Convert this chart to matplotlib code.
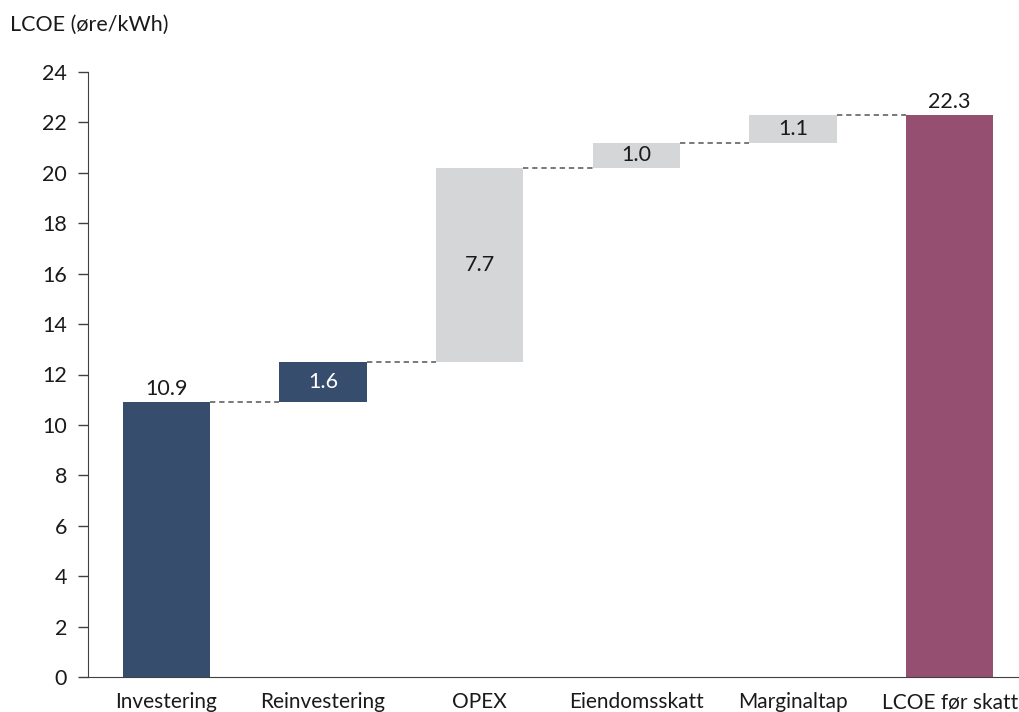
import matplotlib
matplotlib.use("Agg")
import matplotlib.pyplot as plt

# Cost components of LCOE (øre/kWh)
categories = ["Investering", "Reinvestering", "OPEX", "Eiendomsskatt", "Marginaltap", "LCOE før skatt"]
steps = [10.9, 1.6, 7.7, 1.0, 1.1]
total = 22.3
y_ticks = [0, 2, 4, 6, 8, 10, 12, 14, 16, 18, 20, 22, 24]

dark_blue = "#374D6E"
light_gray = "#D5D6D8"
plum = "#944F71"
text_col = "#1A1A1A"

plt.rcParams["font.family"] = ["Lato", "DejaVu Sans"]

fig = plt.figure(figsize=(10.19, 7.12), dpi=100)
ax = fig.add_axes([88 / 1019, 35 / 712, 940 / 1019, 605 / 712])

bar_w = 0.556
bar_colors = [dark_blue, dark_blue, light_gray, light_gray, light_gray]

# floating step bars
bottoms = []
running = 0.0
for v in steps:
    bottoms.append(running)
    running += v

x = list(range(len(categories)))
for i, (v, b, c) in enumerate(zip(steps, bottoms, bar_colors)):
    ax.bar(x[i], v, bottom=b, width=bar_w, color=c, zorder=2)
ax.bar(x[-1], total, width=bar_w, color=plum, zorder=2)

# connectors between consecutive bars
tops = [b + v for b, v in zip(bottoms, steps)]
for i, t in enumerate(tops):
    ax.plot([x[i] + bar_w / 2, x[i + 1] - bar_w / 2], [t, t],
            linestyle=(0, (3.5, 2.5)), color="#555555", linewidth=1.1, zorder=1)

# value labels
fs = 15.5
ax.text(x[0], steps[0] + 0.12, f"{steps[0]:.1f}", ha="center", va="bottom",
        fontsize=fs, color=text_col)
for i in range(1, len(steps)):
    col = "white" if bar_colors[i] == dark_blue else text_col
    ax.text(x[i], bottoms[i] + steps[i] / 2, f"{steps[i]:.1f}", ha="center",
            va="center", fontsize=fs, color=col)
ax.text(x[-1], total + 0.12, f"{total:.1f}", ha="center", va="bottom",
        fontsize=fs, color=text_col)

ax.set_xlim(-0.5, 5.5)
ax.set_ylim(0, 24)
ax.set_yticks(y_ticks)
ax.set_yticklabels([str(t) for t in y_ticks], fontsize=fs, color=text_col)
ax.set_xticks(x)
ax.set_xticklabels(categories, fontsize=15, color=text_col)

for s in ["top", "right"]:
    ax.spines[s].set_visible(False)
ax.spines["left"].set_color("#404040")
ax.spines["bottom"].set_color("#404040")
ax.tick_params(axis="y", length=7, width=1, color="#404040", pad=8)
ax.tick_params(axis="x", length=0, pad=11)

fig.text(10 / 1019, 1 - 25 / 712, "LCOE (øre/kWh)", ha="left", va="center",
         fontsize=fs, color=text_col)

fig.savefig("out.png", dpi=100)
